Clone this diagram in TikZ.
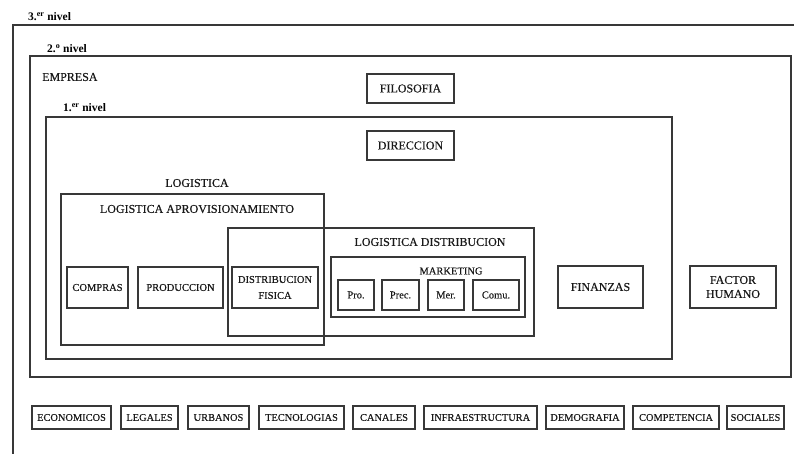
\documentclass[tikz,border=0pt]{standalone}
\usepackage{fontspec}
\setmainfont{Liberation Serif}
% slightly heavier serif for the printed labels
\newfontfamily\labelfont{Liberation Serif}[FakeBold=0.35]
\begin{document}
\begin{tikzpicture}[x=1pt,y=-1pt,
  ink/.style={draw=black!78,line width=1.1pt},
  frame/.style={ink,inner sep=0pt},
  box/.style={ink,inner sep=0pt,align=center,font=\labelfont\fontsize{10.5}{16}\selectfont,text=black!90},
  bigbox/.style={box,font=\labelfont\fontsize{12}{14}\selectfont},
  tinybox/.style={box,minimum height=30pt},
  envbox/.style={box,minimum height=23pt,font=\labelfont\fontsize{10.4}{12}\selectfont},
  title/.style={inner sep=0pt,text=black!90,font=\labelfont\fontsize{12}{14}\selectfont},
  level/.style={inner sep=0pt,anchor=west,text=black,font=\bfseries\fontsize{11.5}{13}\selectfont}]
\useasboundingbox (0,0) rectangle (794,454);

% third level: open frame running off the page
\coordinate (n3a) at (13,454);
\coordinate (n3b) at (13,25);
\coordinate (n3c) at (794,25);
\draw[ink] (n3a) -- (n3b) -- (n3c);
\node[level] (l3) at (28,17) {3.\textsuperscript{er} nivel};

% second level: the company
\node[frame,minimum width=761pt,minimum height=321pt] (nivel2) at (410.5,216.5) {};
\node[level] (l2) at (47,49) {2.\textsuperscript{o} nivel};
\node[title,anchor=west] (empresa) at (42,77) {EMPRESA};
\node[bigbox,minimum width=87pt,minimum height=29pt] (filosofia) at (410.5,88.5) {FILOSOFIA};

% first level
\node[frame,minimum width=626pt,minimum height=242pt] (nivel1) at (359,238) {};
\node[level] (l1) at (63,108) {1.\textsuperscript{er} nivel};
\node[bigbox,minimum width=87pt,minimum height=29pt] (direccion) at (410.5,145.5) {DIRECCION};

% logistics
\node[title] (logistica) at (197,183) {LOGISTICA};
\node[frame,minimum width=263pt,minimum height=151pt] (logapro) at (192.5,269.5) {};
\node[title] (logaprot) at (197,209) {LOGISTICA APROVISIONAMIENTO};
\node[frame,minimum width=306pt,minimum height=108pt] (logdist) at (381,282) {};
\node[title] (logdistt) at (430,242) {LOGISTICA DISTRIBUCION};

\node[box,minimum width=61pt,minimum height=41pt] (compras) at (97.5,287.5) {COMPRAS};
\node[box,minimum width=85pt,minimum height=41pt] (produccion) at (180.5,287.5) {PRODUCCION};
\node[box,minimum width=86pt,minimum height=41pt] (distfis) at (275,287.5) {DISTRIBUCION\\FISICA};

% marketing mix
\node[frame,minimum width=194pt,minimum height=60pt] (mkt) at (428,287) {};
\node[title,font=\labelfont\fontsize{10.5}{12}\selectfont] (mktt) at (451,271) {MARKETING};
\node[tinybox,minimum width=36pt] (pro) at (356,295) {Pro.};
\node[tinybox,minimum width=37pt] (prec) at (400.5,295) {Prec.};
\node[tinybox,minimum width=36pt] (mer) at (446,295) {Mer.};
\node[tinybox,minimum width=46pt] (comu) at (496,295) {Comu.};

\node[bigbox,minimum width=85pt,minimum height=42pt] (finanzas) at (600.5,287) {FINANZAS};
\node[bigbox,minimum width=86pt,minimum height=42pt] (factor) at (733,287) {FACTOR\\HUMANO};

% environment factors
\node[envbox,minimum width=79pt] (eco) at (71.5,417.5) {ECONOMICOS};
\node[envbox,minimum width=57pt] (leg) at (149.5,417.5) {LEGALES};
\node[envbox,minimum width=61pt] (urb) at (218.5,417.5) {URBANOS};
\node[envbox,minimum width=85pt] (tec) at (301.5,417.5) {TECNOLOGIAS};
\node[envbox,minimum width=62pt] (can) at (384,417.5) {CANALES};
\node[envbox,minimum width=113pt] (inf) at (480.5,417.5) {INFRAESTRUCTURA};
\node[envbox,minimum width=78pt] (dem) at (585,417.5) {DEMOGRAFIA};
\node[envbox,minimum width=86pt] (com) at (676,417.5) {COMPETENCIA};
\node[envbox,minimum width=57pt] (soc) at (755.5,417.5) {SOCIALES};
\end{tikzpicture}
\end{document}
